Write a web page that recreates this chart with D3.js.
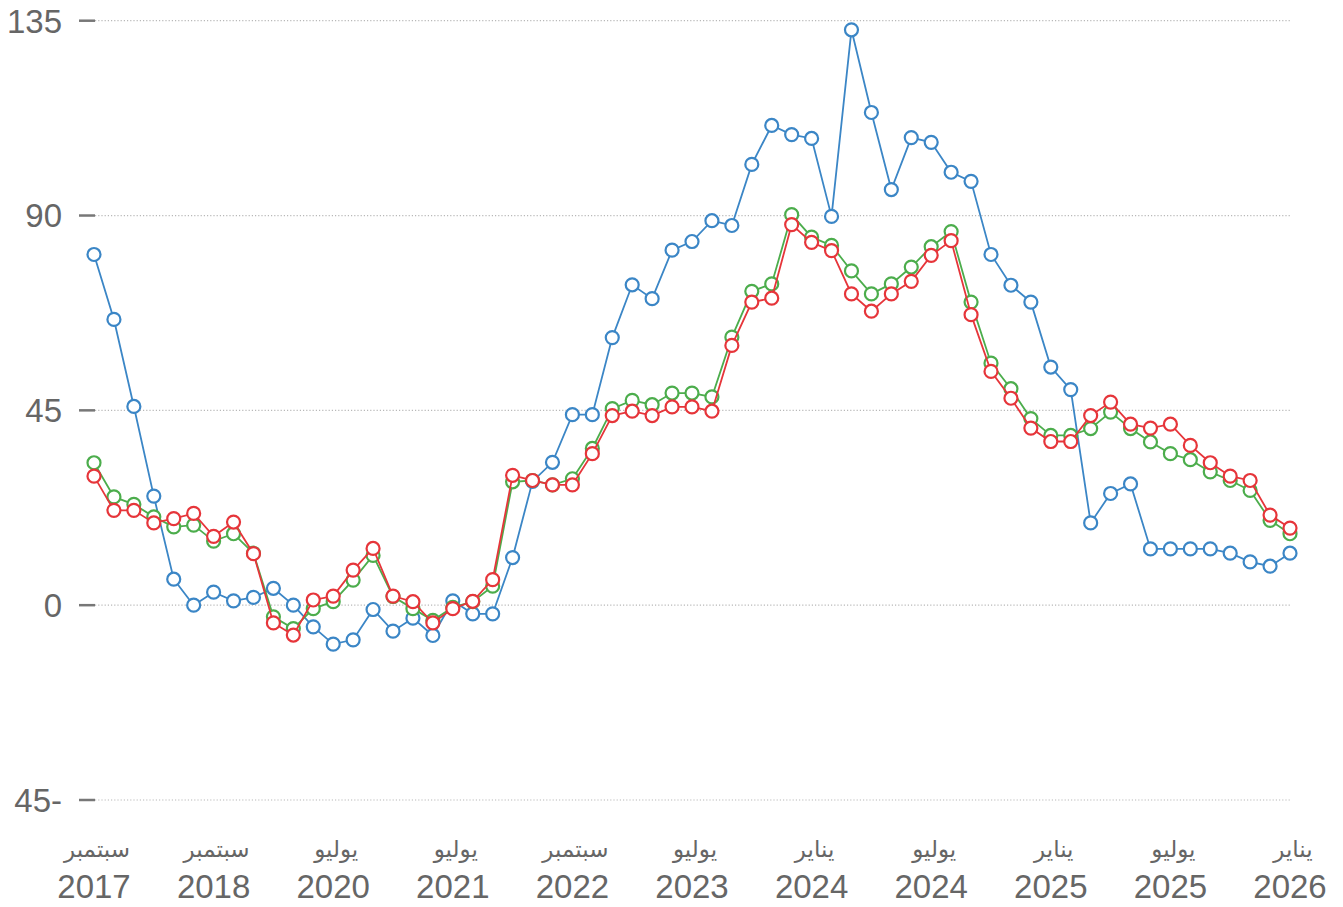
<!DOCTYPE html>
<html>
<head>
<meta charset="utf-8">
<script src="https://cdn.jsdelivr.net/npm/d3@7"></script>
<style>
  body { margin: 0; background: #fff; }
  .tick-lbl { font-family: "Liberation Sans", Arial, sans-serif; fill: #666; }
  .month-lbl { font-family: "DejaVu Sans", "Noto Sans", sans-serif; fill: #666; }
</style>
</head>
<body>
<div id="chart"></div>
<script>
var width = 1343, height = 907;

// y ticks
var yTicks = [135, 90, 45, 0, -45];

// x labels, every 6th point
var tickMonths = ["سبتمبر", "سبتمبر", "يوليو", "يوليو", "سبتمبر", "يوليو", "يناير", "يوليو", "يناير", "يوليو", "يناير"];
var tickYears = ["2017", "2018", "2020", "2021", "2022", "2023", "2024", "2024", "2025", "2025", "2026"];

var blueVals = [81, 66, 45.9, 25.2, 6, 0, 3, 1, 1.8, 3.9, 0, -5, -9, -8, -1, -6, -3, -7, 1, -2,
  -2, 11, 28.6, 33, 44, 44, 61.8, 74, 70.8, 82, 84, 88.8, 87.7, 101.8, 110.8, 108.7, 107.8, 89.8, 132.9, 113.8,
  96, 108, 106.9, 100, 97.9, 81, 73.9, 70, 55, 49.8, 19, 25.8, 28, 13, 13, 13, 13, 12, 10, 9, 12];
var greenVals = [32.9, 25, 23.3, 20.4, 18.1, 18.5, 14.8, 16.5, 12, -2.7, -5.4, -0.8, 0.8, 5.8, 11.5, 2, -0.8, -3.5, -0.5, 0.8,
  4.4, 28.5, 28.8, 27.8, 29.2, 36.2, 45.4, 47.3, 46.3, 49, 49, 48.1, 61.9, 72.5, 74.2, 90.2, 85, 83.1, 77.2, 71.9,
  74.2, 78.1, 82.8, 86.3, 70, 55.9, 50, 43.1, 39.2, 39.2, 40.8, 44.6, 40.8, 37.7, 35, 33.6, 30.8, 28.8, 26.5, 19.6, 16.5];
var redVals = [29.8, 21.9, 21.9, 19, 20, 21.2, 15.9, 19.2, 11.9, -4.1, -6.9, 1.2, 2.1, 8.1, 13.1, 2.1, 0.8, -4.1, -0.8, 0.9,
  5.9, 30, 28.8, 27.8, 27.8, 35, 43.8, 44.8, 43.8, 45.8, 45.8, 44.8, 60, 70, 70.9, 87.9, 83.8, 81.9, 71.9, 67.9,
  71.9, 74.8, 80.8, 84.2, 67.1, 54, 47.8, 40.9, 37.8, 37.8, 43.8, 46.9, 41.8, 40.9, 41.8, 36.9, 32.9, 29.8, 28.8, 20.8, 17.8];

var series = [
  {vals: blueVals, color: "#3b86c6"},
  {vals: greenVals, color: "#4cad4c"},
  {vals: redVals, color: "#e6353a"}
];

var svg = d3.select("#chart")
  .append("svg")
    .attr("width", width)
    .attr("height", height);

var x = d3.scalePoint()
  .domain(d3.range(blueVals.length))
  .range([94, 1290]);

var y = d3.scaleLinear()
  .domain([-45, 135])
  .range([800, 20.7]);

// grid
svg.append("g").selectAll("line")
  .data(yTicks)
  .enter().append("line")
    .attr("x1", 95)
    .attr("x2", 1290)
    .attr("y1", function(d){ return y(d); })
    .attr("y2", function(d){ return y(d); })
    .attr("stroke", "#b8b8b8")
    .attr("stroke-width", 1.2)
    .attr("stroke-dasharray", "1.2,2");

// y axis tick marks + labels
var yAxis = svg.append("g");
yAxis.selectAll("line")
  .data(yTicks)
  .enter().append("line")
    .attr("x1", 79)
    .attr("x2", 95)
    .attr("y1", function(d){ return y(d); })
    .attr("y2", function(d){ return y(d); })
    .attr("stroke", "#777")
    .attr("stroke-width", 2.5);
yAxis.selectAll("text")
  .data(yTicks)
  .enter().append("text")
    .attr("class", "tick-lbl")
    .attr("x", 62)
    .attr("y", function(d){ return y(d); })
    .attr("dy", "0.36em")
    .attr("text-anchor", "end")
    .style("font-size", "33px")
    .text(function(d){ return d < 0 ? Math.abs(d) + "-" : d; });

// x labels
var xIdx = d3.range(tickYears.length).map(function(i){ return i * 6; });
var xAxis = svg.append("g");
xAxis.selectAll("text.month-lbl")
  .data(xIdx)
  .enter().append("text")
    .attr("class", "month-lbl")
    .attr("x", function(d){ return x(d) + 3; })
    .attr("y", 857)
    .attr("text-anchor", "middle")
    .style("font-size", "23px")
    .text(function(d, i){ return tickMonths[i]; });
xAxis.selectAll("text.tick-lbl")
  .data(xIdx)
  .enter().append("text")
    .attr("class", "tick-lbl")
    .attr("x", function(d){ return x(d); })
    .attr("y", 898)
    .attr("text-anchor", "middle")
    .style("font-size", "33px")
    .text(function(d, i){ return tickYears[i]; });

// lines + points
var line = d3.line()
  .x(function(d, i){ return x(i); })
  .y(function(d){ return y(d); });

var sg = svg.append("g").selectAll("g")
  .data(series)
  .enter().append("g");

sg.append("path")
  .attr("d", function(d){ return line(d.vals); })
  .attr("fill", "none")
  .attr("stroke", function(d){ return d.color; })
  .attr("stroke-width", 1.8);

sg.each(function(s){
  d3.select(this).selectAll("circle")
    .data(s.vals)
    .enter().append("circle")
      .attr("cx", function(d, i){ return x(i); })
      .attr("cy", function(d){ return y(d); })
      .attr("r", 6.5)
      .attr("fill", "#fff")
      .attr("stroke", s.color)
      .attr("stroke-width", 2.2);
});
</script>
</body>
</html>
